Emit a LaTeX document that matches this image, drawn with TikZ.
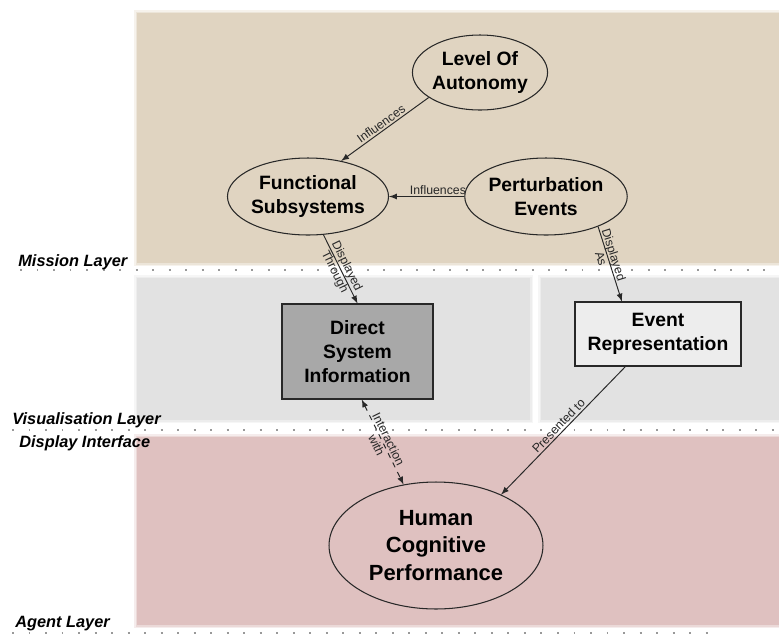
\documentclass[tikz,border=0pt]{standalone}
\usepackage{fontspec}
\setmainfont{Liberation Sans}
\usetikzlibrary{positioning,shapes,arrows}
\definecolor{missiontan}{RGB}{224,212,193}
\definecolor{visgray}{RGB}{226,226,226}
\definecolor{agentpink}{RGB}{223,193,192}
\definecolor{boxdark}{RGB}{168,168,168}
\definecolor{boxlight}{RGB}{237,237,237}
\definecolor{ink}{RGB}{40,40,40}
\tikzstyle{concept} = [draw=ink, ellipse, line width=0.6pt, align=center, inner sep=0pt, font=\fontsize{11}{13.5}\selectfont\bfseries]
\tikzstyle{block} = [draw=ink, fill=boxdark, rectangle, line width=0.6pt, align=center, inner sep=0pt, font=\fontsize{11}{13.5}\selectfont\bfseries]
\tikzstyle{blockx} = [block, fill=boxlight]
\tikzstyle{layertext} = [anchor=west, inner sep=0pt, font=\fontsize{9.3}{11}\selectfont\bfseries\itshape]
\tikzstyle{divider} = [draw=gray!80, line width=1.1pt, dash pattern=on 1.1pt off 8.3pt]
\tikzstyle{link} = [->, draw=ink, line width=0.55pt]
\tikzstyle{rel} = [text=ink, inner sep=1pt, align=center, font=\fontsize{7}{7.6}\selectfont]

\begin{document}
\begin{tikzpicture}[x=0.02cm,y=-0.02cm,>=latex]
		\useasboundingbox (0,0) rectangle (779,637);
		% layer backgrounds, with soft edges
		\foreach \xa/\ya/\xb/\yb/\col in {137/13/779/263/missiontan, 137/278/530/420/visgray, 541/278/779/420/visgray, 137/437/779/625/agentpink}
			\foreach \d/\o in {3/0.3, 1.5/0.45, 0/1}
				\fill [\col, opacity=\o] (\xa-\d,\ya-\d) rectangle (\xb+\d,\yb+\d);
		\draw [divider] (20,270) -- (779,270);
		\draw [divider] (12,430) -- (779,430);
		\draw [divider] (12,633) -- (708,633);

		\node (mission) [layertext] at (18,262) {Mission Layer};
		\node (vis) [layertext] at (12,420) {Visualisation Layer};
		\node (display) [layertext] at (19,443) {Display Interface};
		\node (agent) [layertext] at (15,624) {Agent Layer};

		\node (level) [concept, minimum width=2.6cm, minimum height=1.5cm] at (480,72.5) {Level Of\\Autonomy};
		\node (func) [concept, minimum width=2.72cm, minimum height=1.54cm] at (308,196.5) {Functional\\Subsystems};
		\node (pert) [concept, minimum width=2.64cm, minimum height=1.54cm] at (546,196.5) {Perturbation\\Events};
		\node (direct) [block, minimum width=3.02cm, minimum height=1.9cm] at (357.5,351.5) {Direct\\System\\Information};
		\node (evrep) [blockx, minimum width=3.32cm, minimum height=1.28cm] at (658,334) {Event\\Representation};
		\node (human) [concept, minimum width=4.28cm, minimum height=2.54cm, font=\fontsize{12.5}{15.5}\selectfont\bfseries] at (436,545.5) {Human\\Cognitive\\Performance};

		\draw [link] (level.206) -- node [rel, sloped, above] {Influences} (func.47);
		\draw [link] (pert.west) -- node [rel, above, pos=0.35] {Influences} (func.east);
		\draw [link] (func.-68.5) -- node [rel, sloped] {Displayed\\Through} (direct.north);
		\draw [link] (pert.-30) -- node [rel, sloped, pos=0.4] {Displayed\\As} (evrep.138);
		\draw [link, <->, dashed] (direct.-85) -- node [rel, sloped] {Interaction\\with} (human.118);
		\draw [link] (evrep.225) -- node [rel, sloped, above] {Presented to} (human.38);
	\end{tikzpicture}
\end{document}
